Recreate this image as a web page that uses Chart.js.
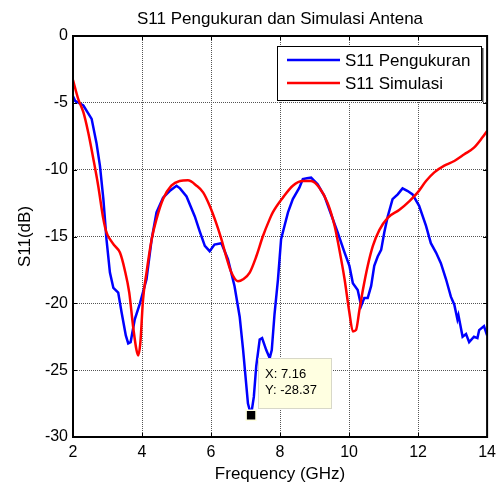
<!DOCTYPE html>
<html lang="id">
<head>
    <meta charset="UTF-8">
    <title>S11 Pengukuran dan Simulasi Antena</title>
    <style>
        body {
            margin: 0;
            background-color: #ffffff;
        }
        #wrap {
            width: 502px;
            height: 486px;
        }
    </style>
</head>
<body>
    <div id="wrap">
        <canvas id="s11Chart" width="502" height="486"></canvas>
    </div>

    <script src="https://cdn.jsdelivr.net/npm/chart.js"></script>
    <script>
        // Data
        const freqMeas = [2.0, 2.06, 2.30, 2.54, 2.68, 2.78, 2.88, 2.97, 3.07, 3.17, 3.31, 3.41, 3.53, 3.60, 3.67, 3.79, 3.94, 4.13, 4.28, 4.42,
            4.61, 4.80, 5.00, 5.10, 5.29, 5.53, 5.67, 5.82, 5.96, 6.10, 6.30, 6.49, 6.68, 6.83, 6.93, 7.07, 7.16, 7.24, 7.31, 7.41,
            7.48, 7.60, 7.70, 7.76, 7.84, 7.94, 8.03, 8.13, 8.23, 8.37, 8.56, 8.66, 8.78, 8.90, 9.09, 9.29, 9.43, 9.67, 9.87, 10.01,
            10.11, 10.25, 10.35, 10.44, 10.54, 10.64, 10.73, 10.83, 10.93, 11.02, 11.12, 11.26, 11.41, 11.55, 11.70, 11.84, 12.03, 12.23, 12.37, 12.52,
            12.66, 12.81, 12.95, 13.05, 13.14, 13.17, 13.29, 13.39, 13.48, 13.62, 13.72, 13.77, 13.91, 14.0];
        const s11Meas = [-4.5, -4.85, -5.2, -6.2, -8.0, -9.7, -12.2, -15.2, -17.7, -18.85, -19.2, -20.7, -22.4, -23.0, -22.9, -21.2, -20.0, -18.2, -15.2, -13.2,
            -12.1, -11.6, -11.2, -11.4, -12.0, -13.5, -14.6, -15.7, -16.1, -15.6, -15.5, -16.7, -18.7, -21.0, -23.5, -27.5, -28.37, -27.0, -24.7, -22.7,
            -22.6, -23.5, -24.1, -23.5, -20.8, -18.2, -15.2, -14.2, -13.2, -12.2, -11.35, -10.7, -10.65, -10.6, -11.1, -12.0, -13.0, -14.7, -16.2, -17.2,
            -18.5, -19.0, -20.2, -19.6, -19.6, -18.7, -17.2, -16.5, -16.0, -14.7, -13.5, -12.2, -11.85, -11.4, -11.6, -11.85, -12.7, -14.2, -15.5, -16.2,
            -17.0, -18.2, -19.5, -20.1, -21.2, -20.9, -22.5, -22.3, -22.9, -22.5, -22.6, -22.0, -21.7, -22.4];

        const freqSim = [2.0, 2.15, 2.30, 2.44, 2.59, 2.73, 2.88, 2.97, 3.07, 3.21, 3.36, 3.50, 3.63, 3.74, 3.84, 3.89, 3.95, 4.03, 4.13, 4.28,
            4.42, 4.61, 4.85, 5.09, 5.33, 5.58, 5.77, 5.96, 6.15, 6.30, 6.44, 6.59, 6.78, 6.93, 7.12, 7.31, 7.50, 7.70, 7.79, 8.08,
            8.37, 8.66, 8.90, 9.14, 9.38, 9.58, 9.72, 9.87, 10.01, 10.11, 10.20, 10.30, 10.40, 10.54, 10.69, 10.88, 11.12, 11.46, 11.75, 11.99,
            12.23, 12.47, 12.76, 13.05, 13.34, 13.62, 13.86, 14.0];
        const s11Sim = [-3.3, -4.7, -5.7, -7.2, -9.2, -11.2, -13.7, -14.7, -15.2, -15.7, -16.2, -17.5, -19.2, -21.7, -23.5, -23.9, -23.0, -19.7, -17.7, -15.2,
            -13.7, -12.2, -11.2, -10.85, -10.8, -11.2, -11.7, -12.7, -14.0, -15.2, -16.5, -17.7, -18.35, -18.2, -17.7, -16.5, -15.0, -13.7, -13.2, -12.1,
            -11.2, -10.85, -10.85, -11.35, -12.5, -14.2, -16.0, -18.2, -20.7, -22.1, -22.0, -20.5, -19.0, -17.2, -15.7, -14.5, -13.6, -13.0, -12.35, -11.7,
            -10.85, -10.2, -9.7, -9.35, -8.85, -8.35, -7.6, -7.1];

        const seriesLabels = ['S11 Pengukuran', 'S11 Simulasi'];
        const xTicks = [2, 4, 6, 8, 10, 12, 14];
        const yTicks = [0, -5, -10, -15, -20, -25, -30];
        const tipX = 7.16;
        const tipY = -28.37;

        const FONT = "'Liberation Sans', Arial, Helvetica, sans-serif";

        function toPoints(xs, ys) {
            return xs.map((x, i) => ({ x: x, y: ys[i] }));
        }

        // frame, inward ticks, title, legend and data tip (MATLAB look)
        const matlabDecor = {
            id: 'matlabDecor',
            afterDatasetsDraw(chart) {
                const ctx = chart.ctx;
                const area = chart.chartArea;
                const xs = chart.scales.x;
                const ys = chart.scales.y;

                // frame
                ctx.save();
                ctx.strokeStyle = '#000';
                ctx.lineWidth = 2;
                ctx.strokeRect(area.left, area.top, area.right - area.left, area.bottom - area.top);

                // small inward ticks
                ctx.lineWidth = 1;
                ctx.beginPath();
                xTicks.forEach(v => {
                    const px = Math.round(xs.getPixelForValue(v)) + 0.5;
                    ctx.moveTo(px, area.bottom); ctx.lineTo(px, area.bottom - 4);
                    ctx.moveTo(px, area.top); ctx.lineTo(px, area.top + 4);
                });
                yTicks.forEach(v => {
                    const py = Math.round(ys.getPixelForValue(v)) + 0.5;
                    ctx.moveTo(area.left, py); ctx.lineTo(area.left + 4, py);
                    ctx.moveTo(area.right, py); ctx.lineTo(area.right - 4, py);
                });
                ctx.stroke();

                // title
                ctx.fillStyle = '#000';
                ctx.font = '17px ' + FONT;
                ctx.textAlign = 'center';
                ctx.textBaseline = 'alphabetic';
                ctx.fillText('S11 Pengukuran dan Simulasi Antena', (area.left + area.right) / 2, 24);

                // legend
                const lx = 277, ly = 46, lw = 204, lh = 54;
                ctx.fillStyle = '#fff';
                ctx.fillRect(lx, ly, lw, lh);
                ctx.strokeStyle = '#000';
                ctx.lineWidth = 1;
                ctx.strokeRect(lx + 0.5, ly + 0.5, lw, lh);
                ctx.fillStyle = '#444';
                ctx.fillRect(lx + lw + 1, ly + 2, 1.5, lh);
                const colors = [chart.data.datasets[0].borderColor, chart.data.datasets[1].borderColor];
                [60, 83].forEach((yy, i) => {
                    ctx.strokeStyle = colors[i];
                    ctx.lineWidth = 2.5;
                    ctx.beginPath();
                    ctx.moveTo(287, yy);
                    ctx.lineTo(340, yy);
                    ctx.stroke();
                    ctx.fillStyle = '#000';
                    ctx.font = '17px ' + FONT;
                    ctx.textAlign = 'left';
                    ctx.textBaseline = 'middle';
                    ctx.fillText(seriesLabels[i], 345, yy + 1);
                });

                // data tip box
                const px = xs.getPixelForValue(tipX);
                const py = ys.getPixelForValue(tipY);
                const bx = Math.round(px + 7), by = Math.round(py - 57);
                ctx.fillStyle = '#ffffe1';
                ctx.fillRect(bx, by, 73, 50);
                ctx.strokeStyle = '#d8d8c8';
                ctx.lineWidth = 1;
                ctx.strokeRect(bx + 0.5, by + 0.5, 73, 50);
                ctx.fillStyle = '#000';
                ctx.font = '13px ' + FONT;
                ctx.textAlign = 'left';
                ctx.textBaseline = 'alphabetic';
                ctx.fillText('X: ' + tipX.toFixed(2), bx + 7, by + 20);
                ctx.fillText('Y: ' + tipY.toFixed(2), bx + 7, by + 36);
                ctx.restore();
            }
        };

        const ctx = document.getElementById('s11Chart').getContext('2d');
        const s11Chart = new Chart(ctx, {
            type: 'line',
            data: {
                datasets: [
                    {
                        label: seriesLabels[0],
                        data: toPoints(freqMeas, s11Meas),
                        borderColor: '#0000ff',
                        borderWidth: 2.5,
                        pointRadius: 0,
                        tension: 0,
                        fill: false,
                        order: 2
                    },
                    {
                        label: seriesLabels[1],
                        data: toPoints(freqSim, s11Sim),
                        borderColor: '#ff0000',
                        borderWidth: 2.5,
                        pointRadius: 0,
                        cubicInterpolationMode: 'monotone',
                        fill: false,
                        order: 1
                    },
                    {
                        label: 'tip',
                        data: [{ x: tipX, y: tipY }],
                        showLine: false,
                        pointStyle: 'rect',
                        pointRadius: 7,
                        backgroundColor: '#000',
                        borderColor: '#ffffe1',
                        borderWidth: 1.5,
                        order: 0
                    }
                ]
            },
            options: {
                responsive: false,
                animation: false,
                devicePixelRatio: 1,
                layout: {
                    padding: { left: 0, top: 36, right: 14, bottom: 0 }
                },
                plugins: {
                    legend: { display: false },
                    title: { display: false },
                    tooltip: { enabled: false }
                },
                scales: {
                    x: {
                        type: 'linear',
                        min: 2,
                        max: 14,
                        afterFit: s => { s.height = 49; },
                        afterBuildTicks: s => { s.ticks = xTicks.map(v => ({ value: v })); },
                        ticks: {
                            color: '#000',
                            font: { family: FONT, size: 16 },
                            padding: 6,
                            maxRotation: 0
                        },
                        grid: {
                            color: '#555',
                            lineWidth: 1,
                            drawTicks: false
                        },
                        border: { display: false, dash: [1, 1] },
                        title: {
                            display: true,
                            text: 'Frequency (GHz)',
                            color: '#000',
                            font: { family: FONT, size: 17 },
                            padding: { top: 0, bottom: 1 }
                        }
                    },
                    y: {
                        min: -30,
                        max: 0,
                        afterFit: s => { s.width = 73; },
                        afterBuildTicks: s => { s.ticks = yTicks.map(v => ({ value: v })); },
                        ticks: {
                            color: '#000',
                            font: { family: FONT, size: 16 },
                            padding: 5
                        },
                        grid: {
                            color: '#555',
                            lineWidth: 1,
                            drawTicks: false
                        },
                        border: { display: false, dash: [1, 1] },
                        title: {
                            display: true,
                            text: 'S11(dB)',
                            color: '#000',
                            font: { family: FONT, size: 17 },
                            padding: { top: 15, bottom: 0 }
                        }
                    }
                }
            },
            plugins: [matlabDecor]
        });
    </script>
</body>
</html>
